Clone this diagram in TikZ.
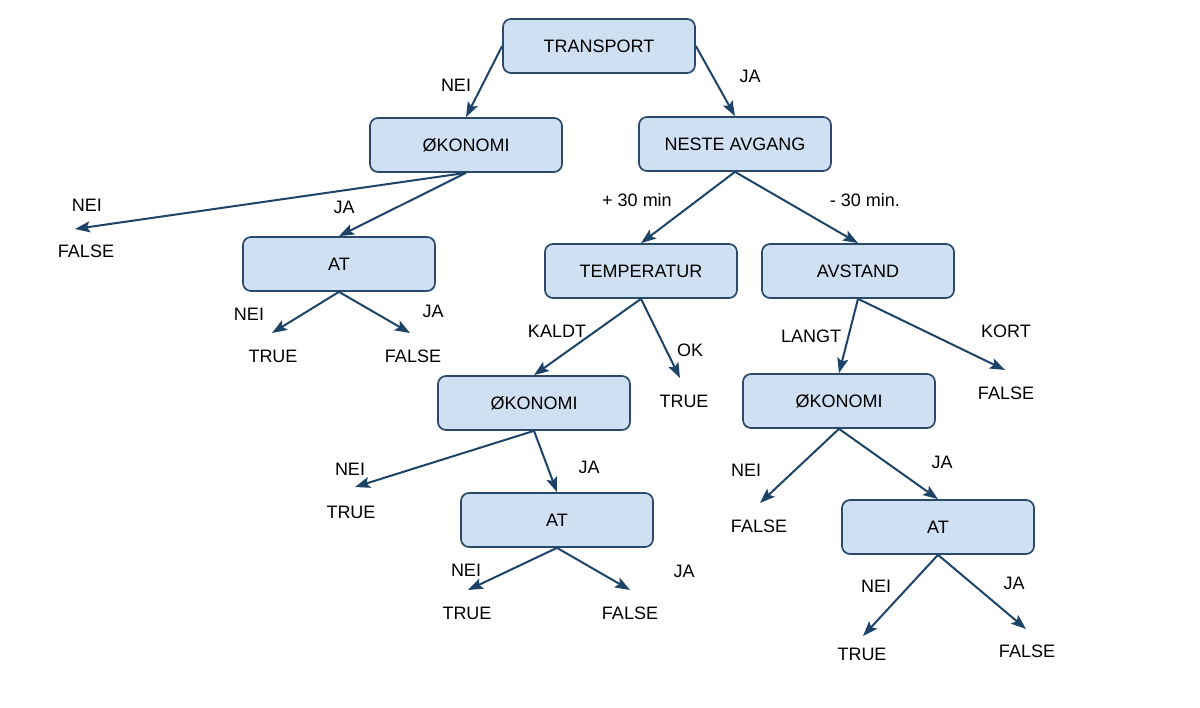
\documentclass[tikz,border=0pt]{standalone}
\usepackage{fontspec}
\setmainfont{Liberation Sans}
\usetikzlibrary{arrows.meta}
\definecolor{boxfill}{HTML}{CFE0F2}
\definecolor{boxline}{HTML}{2B4A6A}
\definecolor{arrowcol}{HTML}{1D4468}
\begin{document}
\begin{tikzpicture}[x=1pt,y=-1pt,
  every node/.style={font=\fontsize{18}{21}\selectfont},
  decbox/.style={draw=boxline, fill=boxfill, line width=1.7pt, rounded corners=8pt,
     minimum width=192pt, minimum height=54pt, inner sep=0pt},
  leaf/.style={inner sep=0pt},
  lbl/.style={inner sep=0pt},
  conn/.style={draw=arrowcol, line width=2pt, -{Stealth[length=15pt,width=11pt,inset=3pt]}}]
\useasboundingbox (0,0) rectangle (1200,708);
% boxes
\node[decbox] (t) at (599,46) {TRANSPORT};
\node[decbox] (ok1) at (466,145) {ØKONOMI};
\node[decbox] (na) at (735,144) {NESTE AVGANG};
\node[decbox] (at1) at (339,264) {AT};
\node[decbox] (temp) at (641,271) {TEMPERATUR};
\node[decbox] (avs) at (858,271) {AVSTAND};
\node[decbox] (ok2) at (534,403) {ØKONOMI};
\node[decbox] (ok3) at (839,401) {ØKONOMI};
\node[decbox] (at2) at (557,520) {AT};
\node[decbox] (at3) at (938,527) {AT};
% leaves
\node[leaf] (f1) at (86,251) {FALSE};
\node[leaf] (t1) at (273,356) {TRUE};
\node[leaf] (f2) at (413,356) {FALSE};
\node[leaf] (t2) at (684,401) {TRUE};
\node[leaf] (t3) at (351,512) {TRUE};
\node[leaf] (t4) at (467,613) {TRUE};
\node[leaf] (f3) at (630,613) {FALSE};
\node[leaf] (f4) at (1006,393) {FALSE};
\node[leaf] (f5) at (759,526) {FALSE};
\node[leaf] (t5) at (862,654) {TRUE};
\node[leaf] (f6) at (1027,651) {FALSE};
% arrow end coordinates above leaves
\coordinate (e1) at (75,229);
\coordinate (e2) at (272,333);
\coordinate (e3) at (410,333);
\coordinate (e4) at (680,378);
\coordinate (e5) at (355,487);
\coordinate (e6) at (468,590);
\coordinate (e7) at (630,590);
\coordinate (e8) at (1005,370);
\coordinate (e9) at (760,503);
\coordinate (e10) at (863,636);
\coordinate (e11) at (1026,629);
% connectors
\draw[conn] (t.west) -- (ok1.north);
\draw[conn] (t.east) -- (na.north);
\draw[conn] (ok1.south) -- (e1);
\draw[conn] (ok1.south) -- (at1.north);
\draw[conn] (at1.south) -- (e2);
\draw[conn] (at1.south) -- (e3);
\draw[conn] (na.south) -- (temp.north);
\draw[conn] (na.south) -- (avs.north);
\draw[conn] (temp.south) -- (ok2.north);
\draw[conn] (temp.south) -- (e4);
\draw[conn] (avs.south) -- (ok3.north);
\draw[conn] (avs.south) -- (e8);
\draw[conn] (ok2.south) -- (e5);
\draw[conn] (ok2.south) -- (at2.north);
\draw[conn] (at2.south) -- (e6);
\draw[conn] (at2.south) -- (e7);
\draw[conn] (ok3.south) -- (e9);
\draw[conn] (ok3.south) -- (at3.north);
\draw[conn] (at3.south) -- (e10);
\draw[conn] (at3.south) -- (e11);
% labels
\node[lbl] (l1) at (456,85) {NEI};
\node[lbl] (l2) at (750,76) {JA};
\node[lbl] (l3) at (87,205) {NEI};
\node[lbl] (l4) at (344,207) {JA};
\node[lbl] (l5) at (249,314) {NEI};
\node[lbl] (l6) at (433,311) {JA};
\node[lbl] (l7) at (637,200) {+ 30 min};
\node[lbl] (l8) at (865,200) {- 30 min.};
\node[lbl] (l9) at (557,331) {KALDT};
\node[lbl] (l10) at (690,350) {OK};
\node[lbl] (l11) at (811,336) {LANGT};
\node[lbl] (l12) at (1006,331) {KORT};
\node[lbl] (l13) at (350,469) {NEI};
\node[lbl] (l14) at (589,467) {JA};
\node[lbl] (l15) at (466,570) {NEI};
\node[lbl] (l16) at (684,571) {JA};
\node[lbl] (l17) at (746,470) {NEI};
\node[lbl] (l18) at (942,462) {JA};
\node[lbl] (l19) at (876,586) {NEI};
\node[lbl] (l20) at (1014,583) {JA};
\end{tikzpicture}
\end{document}
